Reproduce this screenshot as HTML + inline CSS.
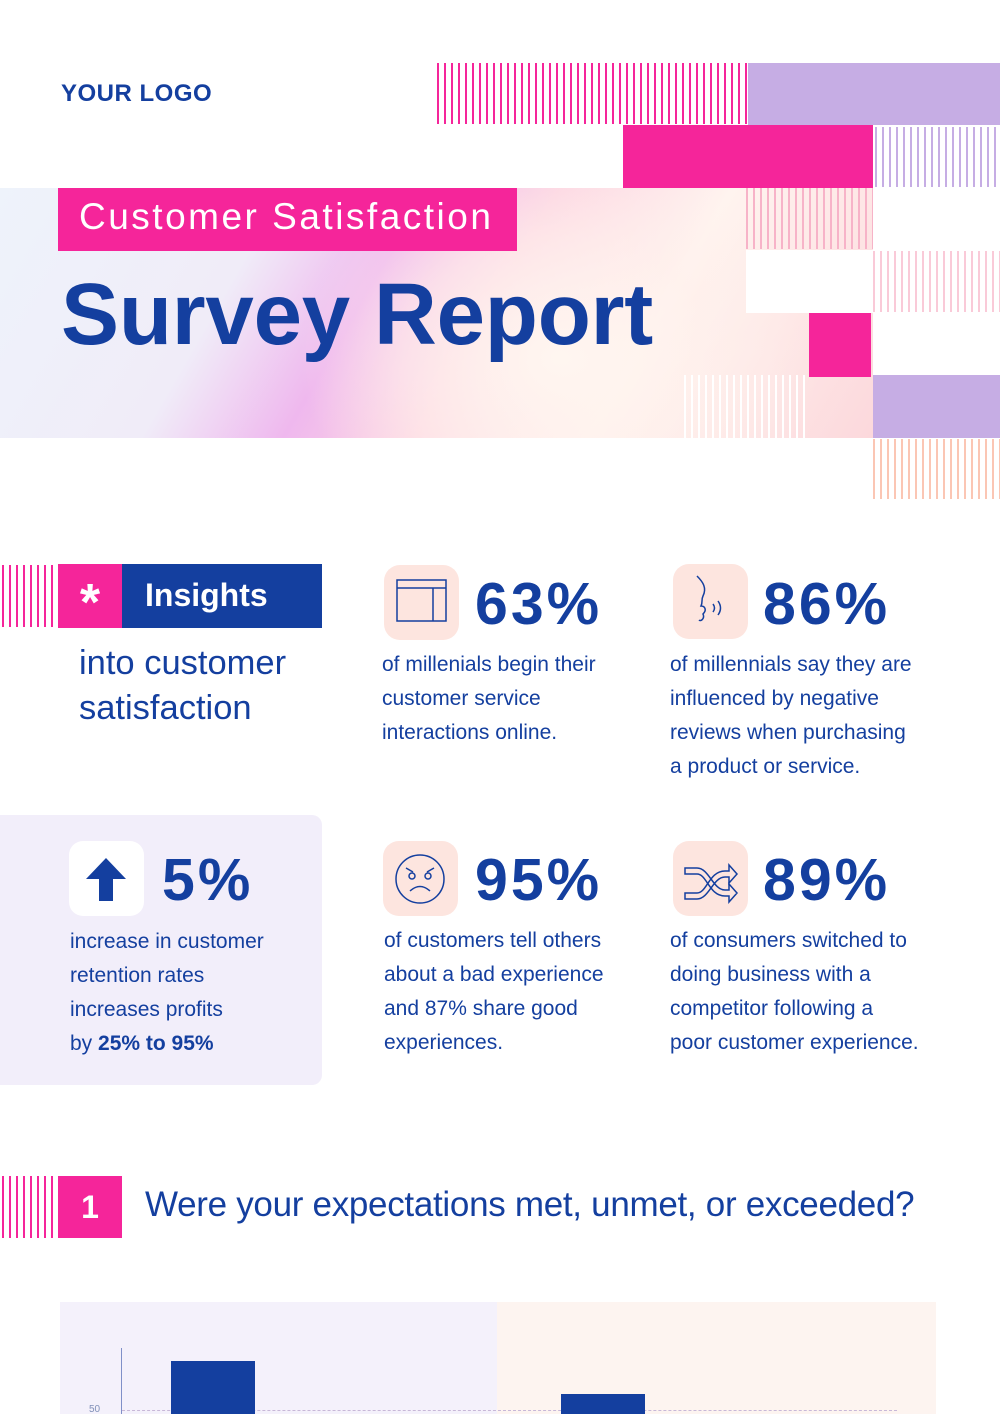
<!DOCTYPE html>
<html><head><meta charset="utf-8"><style>
*{margin:0;padding:0;box-sizing:border-box}
body{width:1000px;height:1414px;background:#fff;position:relative;overflow:hidden;font-family:"Liberation Sans",sans-serif;color:#143f9f}
.a{position:absolute}
.sp{background:repeating-linear-gradient(90deg,#f5259a 0 2px,transparent 2px 7px)}
.sl{background:repeating-linear-gradient(90deg,#c6ade4 0 2px,transparent 2px 7px)}
.spk{background:repeating-linear-gradient(90deg,#f7b3c8 0 2px,transparent 2px 7px)}
.spe{background:repeating-linear-gradient(90deg,#fbc6b4 0 2px,transparent 2px 7px)}
.sw{background:repeating-linear-gradient(90deg,#fff 0 2px,transparent 2px 7px)}
.ic{background:#fde5df;border-radius:16px;width:75px;height:75px}
.big{font-weight:bold;font-size:59px;letter-spacing:3px}
.txt{font-size:21px;line-height:34px}
</style></head><body>
<div class="a" style="left:61px;top:80px;font-weight:bold;font-size:24px;letter-spacing:0.5px">YOUR LOGO</div>
<div class="a sp" style="left:437px;top:63px;width:311px;height:61px"></div>
<div class="a" style="left:748px;top:63px;width:252px;height:62px;background:#c6ade4"></div>
<div class="a" style="left:623px;top:125px;width:250px;height:63px;background:#f5259a"></div>
<div class="a sl" style="left:875px;top:127px;width:125px;height:60px"></div>
<div class="a" style="left:0;top:188px;width:873px;height:250px;background:radial-gradient(ellipse 260px 200px at 560px 170px,#fff6f0 0%,rgba(255,240,236,0.6) 60%,transparent 100%),linear-gradient(120deg,#eef3fb 0%,#f0ecf8 28%,#efb8ee 42%,#fcd4e2 55%,#fff4ef 72%,#fcd8dc 100%)"></div>
<div class="a spk" style="left:746px;top:188px;width:127px;height:61px"></div>
<div class="a" style="left:746px;top:250px;width:127px;height:63px;background:#fff"></div>
<div class="a spk" style="left:873px;top:251px;width:127px;height:61px;opacity:.7"></div>
<div class="a" style="left:809px;top:313px;width:62px;height:64px;background:#f5259a"></div>
<div class="a sw" style="left:684px;top:375px;width:125px;height:63px"></div>
<div class="a" style="left:873px;top:375px;width:127px;height:63px;background:#c6ade4"></div>
<div class="a spe" style="left:873px;top:439px;width:127px;height:60px"></div>
<div class="a" style="left:58px;top:188px;width:459px;height:63px;background:#f5259a;color:#fff;font-size:37px;letter-spacing:2.5px;padding:8px 0 0 21px">Customer Satisfaction</div>
<div class="a" style="left:61px;top:265px;font-weight:bold;font-size:87px;letter-spacing:-0.2px">Survey Report</div>

<div class="a sp" style="left:2px;top:565px;width:52px;height:62px"></div>
<div class="a" style="left:58px;top:564px;width:64px;height:64px;background:#f5259a;color:#fff;font-size:52px;font-weight:bold;text-align:center;line-height:78px">*</div>
<div class="a" style="left:122px;top:564px;width:200px;height:64px;background:#143f9f;color:#fff;font-weight:bold;font-size:32px;padding:13px 0 0 23px">Insights</div>
<div class="a" style="left:79px;top:641px;font-size:34.5px;line-height:45px">into customer<br>satisfaction</div>

<div class="a ic" style="left:384px;top:565px"><svg width="75" height="75"><g fill="none" stroke="#143f9f" stroke-width="1.5"><rect x="13" y="15" width="49" height="41"/><line x1="13" y1="23" x2="62" y2="23"/><line x1="49" y1="23" x2="49" y2="56"/></g></svg></div>
<div class="a big" style="left:475px;top:570px">63%</div>
<div class="a txt" style="left:382px;top:648px">of millenials begin their<br>customer service<br>interactions online.</div>

<div class="a ic" style="left:673px;top:564px"><svg width="75" height="75"><g fill="none" stroke="#143f9f" stroke-width="1.5"><path d="M24 12c6 6 10 12 6 20-2 4 0 6-2 10 4 0 6 4 2 8 2 4-2 8-4 6"/><path d="M40 40q3 4 0 8M45 37q5 7 0 14"/></g></svg></div>
<div class="a big" style="left:763px;top:570px">86%</div>
<div class="a txt" style="left:670px;top:648px">of millennials say they are<br>influenced by negative<br>reviews when purchasing<br>a product or service.</div>

<div class="a" style="left:0;top:815px;width:322px;height:270px;background:#f2eefa;border-radius:0 10px 10px 0"></div>
<div class="a" style="left:69px;top:841px;width:75px;height:75px;background:#fff;border-radius:14px"><svg width="75" height="75"><path d="M37 17L17 38h13v22h14V38h13z" fill="#143f9f"/></svg></div>
<div class="a big" style="left:162px;top:846px">5%</div>
<div class="a txt" style="left:70px;top:925px">increase in customer<br>retention rates<br>increases profits<br>by <b>25% to 95%</b></div>

<div class="a ic" style="left:383px;top:841px"><svg width="75" height="75"><g fill="none" stroke="#143f9f" stroke-width="1.5"><circle cx="37" cy="38" r="24"/><circle cx="29" cy="35" r="3"/><circle cx="45" cy="35" r="3"/><path d="M23 27l7 4M51 27l-7 4M27 50q10-9 20 0"/></g></svg></div>
<div class="a big" style="left:475px;top:846px">95%</div>
<div class="a txt" style="left:384px;top:924px">of customers tell others<br>about a bad experience<br>and 87% share good<br>experiences.</div>

<div class="a ic" style="left:673px;top:841px"><svg width="75" height="75"><g fill="none" stroke="#143f9f" stroke-width="1.5"><path d="M12 27h12c12 0 16 22 28 22h4v-6l8 9-8 9v-6h-4c-16 0-18-22-28-22h-12z"/><path d="M12 52h12c10 0 12-22 28-22h4v-6l8 9-8 9v-6h-4c-12 0-16 22-28 22h-12z"/></g></svg></div>
<div class="a big" style="left:763px;top:846px">89%</div>
<div class="a txt" style="left:670px;top:924px">of consumers switched to<br>doing business with a<br>competitor following a<br>poor customer experience.</div>

<div class="a sp" style="left:2px;top:1176px;width:52px;height:62px"></div>
<div class="a" style="left:58px;top:1176px;width:64px;height:62px;background:#f5259a;color:#fff;font-weight:bold;font-size:32px;text-align:center;line-height:62px">1</div>
<div class="a" style="left:145px;top:1185px;font-size:35px;letter-spacing:-0.3px">Were your expectations met, unmet, or exceeded?</div>

<div class="a" style="left:60px;top:1302px;width:437px;height:112px;background:#f4f1fb"></div>
<div class="a" style="left:497px;top:1302px;width:439px;height:112px;background:#fdf4f0"></div>
<div class="a" style="left:121px;top:1348px;width:1px;height:66px;background:#8090c8"></div>
<div class="a" style="left:122px;top:1410px;width:775px;border-top:1px dashed #c8b8d8"></div>
<div class="a" style="left:89px;top:1404px;font-size:10px;color:#8090b8">50</div>
<div class="a" style="left:171px;top:1361px;width:84px;height:53px;background:#143f9f"></div>
<div class="a" style="left:561px;top:1394px;width:84px;height:20px;background:#143f9f"></div>
</body></html>
